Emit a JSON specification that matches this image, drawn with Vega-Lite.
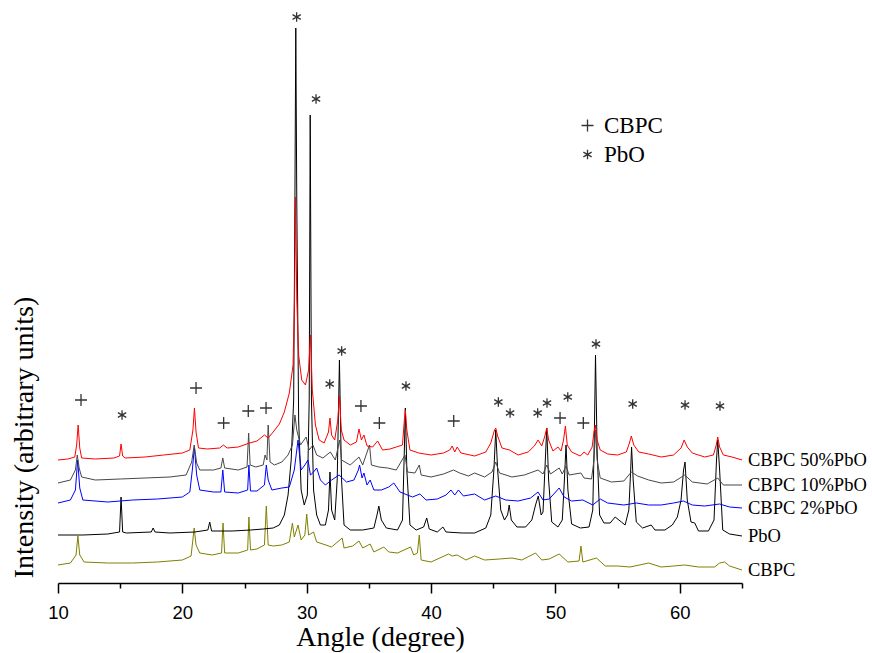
{
"$schema": "https://vega.github.io/schema/vega-lite/v6.json",
"width": 684, "height": 563,
"autosize": {"type": "none"},
"padding": {"left": 58, "top": 20, "right": 130, "bottom": 70},
"background": "white",
"config": {"view": {"stroke": null}},
"datasets": {
"xrd": [
{"series":"CBPC","angle":10,"intensity":18},{"series":"CBPC","angle":11,"intensity":20},{"series":"CBPC","angle":11.45,"intensity":28},{"series":"CBPC","angle":11.6,"intensity":47},{"series":"CBPC","angle":11.75,"intensity":28},{"series":"CBPC","angle":12.1,"intensity":21},{"series":"CBPC","angle":14,"intensity":20},{"series":"CBPC","angle":16,"intensity":20},{"series":"CBPC","angle":18,"intensity":21},{"series":"CBPC","angle":20,"intensity":23},{"series":"CBPC","angle":20.7,"intensity":27},{"series":"CBPC","angle":20.95,"intensity":55},{"series":"CBPC","angle":21.1,"intensity":38},{"series":"CBPC","angle":21.4,"intensity":30},{"series":"CBPC","angle":22.4,"intensity":28},{"series":"CBPC","angle":23.15,"intensity":30},{"series":"CBPC","angle":23.27,"intensity":60},{"series":"CBPC","angle":23.4,"intensity":30},{"series":"CBPC","angle":24.5,"intensity":30},{"series":"CBPC","angle":25.25,"intensity":33},{"series":"CBPC","angle":25.35,"intensity":66},{"series":"CBPC","angle":25.48,"intensity":33},{"series":"CBPC","angle":26,"intensity":34},{"series":"CBPC","angle":26.6,"intensity":38},{"series":"CBPC","angle":26.75,"intensity":77},{"series":"CBPC","angle":26.9,"intensity":38},{"series":"CBPC","angle":27.3,"intensity":37},{"series":"CBPC","angle":28,"intensity":38},{"series":"CBPC","angle":28.6,"intensity":41},{"series":"CBPC","angle":28.85,"intensity":60},{"series":"CBPC","angle":29,"intensity":46},{"series":"CBPC","angle":29.3,"intensity":58},{"series":"CBPC","angle":29.55,"intensity":43},{"series":"CBPC","angle":29.85,"intensity":48},{"series":"CBPC","angle":30,"intensity":69},{"series":"CBPC","angle":30.15,"intensity":48},{"series":"CBPC","angle":30.55,"intensity":51},{"series":"CBPC","angle":30.8,"intensity":41},{"series":"CBPC","angle":31.3,"intensity":39},{"series":"CBPC","angle":32,"intensity":36},{"series":"CBPC","angle":32.85,"intensity":45},{"series":"CBPC","angle":33,"intensity":35},{"series":"CBPC","angle":33.7,"intensity":37},{"series":"CBPC","angle":34.2,"intensity":42},{"series":"CBPC","angle":34.5,"intensity":35},{"series":"CBPC","angle":35.1,"intensity":39},{"series":"CBPC","angle":35.4,"intensity":31},{"series":"CBPC","angle":36.2,"intensity":36},{"series":"CBPC","angle":36.6,"intensity":31},{"series":"CBPC","angle":37.3,"intensity":30},{"series":"CBPC","angle":38.35,"intensity":36},{"series":"CBPC","angle":38.6,"intensity":28},{"series":"CBPC","angle":38.9,"intensity":30},{"series":"CBPC","angle":39.05,"intensity":48},{"series":"CBPC","angle":39.2,"intensity":23},{"series":"CBPC","angle":40,"intensity":21},{"series":"CBPC","angle":41.4,"intensity":29},{"series":"CBPC","angle":41.7,"intensity":27},{"series":"CBPC","angle":42.1,"intensity":28},{"series":"CBPC","angle":42.8,"intensity":23},{"series":"CBPC","angle":43.5,"intensity":27},{"series":"CBPC","angle":44.3,"intensity":23},{"series":"CBPC","angle":45.5,"intensity":24},{"series":"CBPC","angle":46.5,"intensity":25},{"series":"CBPC","angle":47.3,"intensity":23},{"series":"CBPC","angle":48.4,"intensity":30},{"series":"CBPC","angle":48.9,"intensity":23},{"series":"CBPC","angle":49.5,"intensity":24},{"series":"CBPC","angle":50.3,"intensity":29},{"series":"CBPC","angle":51,"intensity":21},{"series":"CBPC","angle":51.9,"intensity":22},{"series":"CBPC","angle":52.05,"intensity":37},{"series":"CBPC","angle":52.2,"intensity":21},{"series":"CBPC","angle":53.3,"intensity":25},{"series":"CBPC","angle":54,"intensity":17},{"series":"CBPC","angle":55,"intensity":17},{"series":"CBPC","angle":56,"intensity":16},{"series":"CBPC","angle":57.5,"intensity":20},{"series":"CBPC","angle":58.5,"intensity":16},{"series":"CBPC","angle":59.5,"intensity":17},{"series":"CBPC","angle":60.4,"intensity":18},{"series":"CBPC","angle":61.5,"intensity":16},{"series":"CBPC","angle":62.8,"intensity":16},{"series":"CBPC","angle":63.2,"intensity":20},{"series":"CBPC","angle":63.6,"intensity":21},{"series":"CBPC","angle":64,"intensity":17},{"series":"CBPC","angle":65,"intensity":13},
{"series":"PbO","angle":10,"intensity":48},{"series":"PbO","angle":12,"intensity":48},{"series":"PbO","angle":14,"intensity":49},{"series":"PbO","angle":14.95,"intensity":51},{"series":"PbO","angle":15.07,"intensity":86},{"series":"PbO","angle":15.2,"intensity":51},{"series":"PbO","angle":15.5,"intensity":50},{"series":"PbO","angle":17.5,"intensity":51},{"series":"PbO","angle":17.65,"intensity":55},{"series":"PbO","angle":17.8,"intensity":51},{"series":"PbO","angle":19,"intensity":50},{"series":"PbO","angle":21,"intensity":51},{"series":"PbO","angle":22.05,"intensity":53},{"series":"PbO","angle":22.2,"intensity":61},{"series":"PbO","angle":22.35,"intensity":52},{"series":"PbO","angle":24,"intensity":52},{"series":"PbO","angle":25.5,"intensity":53},{"series":"PbO","angle":26.5,"intensity":54},{"series":"PbO","angle":27.3,"intensity":55},{"series":"PbO","angle":27.8,"intensity":58},{"series":"PbO","angle":28.2,"intensity":68},{"series":"PbO","angle":28.5,"intensity":88},{"series":"PbO","angle":28.75,"intensity":123},{"series":"PbO","angle":28.95,"intensity":183},{"series":"PbO","angle":29.05,"intensity":383},{"series":"PbO","angle":29.12,"intensity":555},{"series":"PbO","angle":29.2,"intensity":383},{"series":"PbO","angle":29.35,"intensity":163},{"series":"PbO","angle":29.55,"intensity":93},{"series":"PbO","angle":29.8,"intensity":78},{"series":"PbO","angle":30.05,"intensity":88},{"series":"PbO","angle":30.2,"intensity":183},{"series":"PbO","angle":30.28,"intensity":468},{"series":"PbO","angle":30.38,"intensity":183},{"series":"PbO","angle":30.55,"intensity":93},{"series":"PbO","angle":30.8,"intensity":68},{"series":"PbO","angle":31.1,"intensity":58},{"series":"PbO","angle":31.5,"intensity":58},{"series":"PbO","angle":31.75,"intensity":73},{"series":"PbO","angle":31.87,"intensity":111},{"series":"PbO","angle":32,"intensity":73},{"series":"PbO","angle":32.25,"intensity":63},{"series":"PbO","angle":32.45,"intensity":103},{"series":"PbO","angle":32.63,"intensity":223},{"series":"PbO","angle":32.8,"intensity":103},{"series":"PbO","angle":33,"intensity":58},{"series":"PbO","angle":33.5,"intensity":53},{"series":"PbO","angle":34.5,"intensity":53},{"series":"PbO","angle":35.4,"intensity":55},{"series":"PbO","angle":35.65,"intensity":68},{"series":"PbO","angle":35.8,"intensity":77},{"series":"PbO","angle":36,"intensity":63},{"series":"PbO","angle":36.4,"intensity":55},{"series":"PbO","angle":37.3,"intensity":53},{"series":"PbO","angle":37.7,"intensity":63},{"series":"PbO","angle":37.85,"intensity":133},{"series":"PbO","angle":37.93,"intensity":175},{"series":"PbO","angle":38.05,"intensity":113},{"series":"PbO","angle":38.3,"intensity":58},{"series":"PbO","angle":38.8,"intensity":53},{"series":"PbO","angle":39.4,"intensity":56},{"series":"PbO","angle":39.65,"intensity":65},{"series":"PbO","angle":39.85,"intensity":54},{"series":"PbO","angle":40.5,"intensity":51},{"series":"PbO","angle":40.95,"intensity":56},{"series":"PbO","angle":41.2,"intensity":51},{"series":"PbO","angle":42.5,"intensity":50},{"series":"PbO","angle":43.5,"intensity":50},{"series":"PbO","angle":44.4,"intensity":55},{"series":"PbO","angle":44.8,"intensity":68},{"series":"PbO","angle":45.05,"intensity":113},{"series":"PbO","angle":45.2,"intensity":153},{"series":"PbO","angle":45.35,"intensity":113},{"series":"PbO","angle":45.6,"intensity":73},{"series":"PbO","angle":45.9,"intensity":63},{"series":"PbO","angle":46.15,"intensity":68},{"series":"PbO","angle":46.28,"intensity":78},{"series":"PbO","angle":46.45,"intensity":63},{"series":"PbO","angle":46.9,"intensity":56},{"series":"PbO","angle":47.6,"intensity":56},{"series":"PbO","angle":48.1,"intensity":63},{"series":"PbO","angle":48.4,"intensity":78},{"series":"PbO","angle":48.62,"intensity":87},{"series":"PbO","angle":48.85,"intensity":68},{"series":"PbO","angle":49,"intensity":71},{"series":"PbO","angle":49.15,"intensity":113},{"series":"PbO","angle":49.3,"intensity":155},{"series":"PbO","angle":49.45,"intensity":103},{"series":"PbO","angle":49.7,"intensity":61},{"series":"PbO","angle":50.2,"intensity":56},{"series":"PbO","angle":50.55,"intensity":63},{"series":"PbO","angle":50.72,"intensity":103},{"series":"PbO","angle":50.85,"intensity":138},{"series":"PbO","angle":51,"intensity":93},{"series":"PbO","angle":51.3,"intensity":59},{"series":"PbO","angle":52,"intensity":55},{"series":"PbO","angle":52.7,"intensity":56},{"series":"PbO","angle":53,"intensity":73},{"series":"PbO","angle":53.12,"intensity":143},{"series":"PbO","angle":53.22,"intensity":228},{"series":"PbO","angle":53.35,"intensity":133},{"series":"PbO","angle":53.55,"intensity":68},{"series":"PbO","angle":53.9,"intensity":60},{"series":"PbO","angle":54.4,"intensity":60},{"series":"PbO","angle":54.8,"intensity":66},{"series":"PbO","angle":55.3,"intensity":61},{"series":"PbO","angle":55.6,"intensity":58},{"series":"PbO","angle":55.9,"intensity":73},{"series":"PbO","angle":56.05,"intensity":113},{"series":"PbO","angle":56.12,"intensity":136},{"series":"PbO","angle":56.25,"intensity":103},{"series":"PbO","angle":56.5,"intensity":61},{"series":"PbO","angle":57,"intensity":55},{"series":"PbO","angle":57.7,"intensity":58},{"series":"PbO","angle":58,"intensity":53},{"series":"PbO","angle":58.8,"intensity":53},{"series":"PbO","angle":59.4,"intensity":58},{"series":"PbO","angle":59.8,"intensity":66},{"series":"PbO","angle":60.1,"intensity":83},{"series":"PbO","angle":60.3,"intensity":113},{"series":"PbO","angle":60.42,"intensity":121},{"series":"PbO","angle":60.6,"intensity":83},{"series":"PbO","angle":60.9,"intensity":61},{"series":"PbO","angle":61.2,"intensity":60},{"series":"PbO","angle":61.5,"intensity":52},{"series":"PbO","angle":62.3,"intensity":52},{"series":"PbO","angle":62.75,"intensity":63},{"series":"PbO","angle":62.95,"intensity":123},{"series":"PbO","angle":63.05,"intensity":143},{"series":"PbO","angle":63.2,"intensity":113},{"series":"PbO","angle":63.45,"intensity":53},{"series":"PbO","angle":64,"intensity":49},{"series":"PbO","angle":65,"intensity":47},
{"series":"CBPC 2%PbO","angle":10,"intensity":80},{"series":"CBPC 2%PbO","angle":11,"intensity":83},{"series":"CBPC 2%PbO","angle":11.4,"intensity":93},{"series":"CBPC 2%PbO","angle":11.58,"intensity":123},{"series":"CBPC 2%PbO","angle":11.75,"intensity":95},{"series":"CBPC 2%PbO","angle":12,"intensity":83},{"series":"CBPC 2%PbO","angle":14,"intensity":81},{"series":"CBPC 2%PbO","angle":16,"intensity":83},{"series":"CBPC 2%PbO","angle":18,"intensity":84},{"series":"CBPC 2%PbO","angle":20,"intensity":86},{"series":"CBPC 2%PbO","angle":20.6,"intensity":91},{"series":"CBPC 2%PbO","angle":20.8,"intensity":113},{"series":"CBPC 2%PbO","angle":20.97,"intensity":136},{"series":"CBPC 2%PbO","angle":21.15,"intensity":108},{"series":"CBPC 2%PbO","angle":21.4,"intensity":93},{"series":"CBPC 2%PbO","angle":22.5,"intensity":91},{"series":"CBPC 2%PbO","angle":23.1,"intensity":91},{"series":"CBPC 2%PbO","angle":23.25,"intensity":113},{"series":"CBPC 2%PbO","angle":23.4,"intensity":91},{"series":"CBPC 2%PbO","angle":24.5,"intensity":90},{"series":"CBPC 2%PbO","angle":25.25,"intensity":93},{"series":"CBPC 2%PbO","angle":25.35,"intensity":118},{"series":"CBPC 2%PbO","angle":25.48,"intensity":92},{"series":"CBPC 2%PbO","angle":26,"intensity":92},{"series":"CBPC 2%PbO","angle":26.6,"intensity":98},{"series":"CBPC 2%PbO","angle":26.75,"intensity":118},{"series":"CBPC 2%PbO","angle":26.9,"intensity":103},{"series":"CBPC 2%PbO","angle":27.2,"intensity":93},{"series":"CBPC 2%PbO","angle":28,"intensity":95},{"series":"CBPC 2%PbO","angle":28.6,"intensity":96},{"series":"CBPC 2%PbO","angle":29,"intensity":113},{"series":"CBPC 2%PbO","angle":29.3,"intensity":143},{"series":"CBPC 2%PbO","angle":29.55,"intensity":113},{"series":"CBPC 2%PbO","angle":29.85,"intensity":118},{"series":"CBPC 2%PbO","angle":30.1,"intensity":123},{"series":"CBPC 2%PbO","angle":30.3,"intensity":108},{"series":"CBPC 2%PbO","angle":30.55,"intensity":111},{"series":"CBPC 2%PbO","angle":30.8,"intensity":115},{"series":"CBPC 2%PbO","angle":31.1,"intensity":103},{"series":"CBPC 2%PbO","angle":31.5,"intensity":98},{"series":"CBPC 2%PbO","angle":32,"intensity":103},{"series":"CBPC 2%PbO","angle":32.6,"intensity":108},{"series":"CBPC 2%PbO","angle":33.2,"intensity":101},{"series":"CBPC 2%PbO","angle":33.8,"intensity":103},{"series":"CBPC 2%PbO","angle":34.15,"intensity":113},{"series":"CBPC 2%PbO","angle":34.25,"intensity":118},{"series":"CBPC 2%PbO","angle":34.45,"intensity":105},{"series":"CBPC 2%PbO","angle":34.6,"intensity":110},{"series":"CBPC 2%PbO","angle":34.85,"intensity":98},{"series":"CBPC 2%PbO","angle":35.1,"intensity":103},{"series":"CBPC 2%PbO","angle":35.4,"intensity":93},{"series":"CBPC 2%PbO","angle":36,"intensity":93},{"series":"CBPC 2%PbO","angle":36.6,"intensity":96},{"series":"CBPC 2%PbO","angle":37,"intensity":100},{"series":"CBPC 2%PbO","angle":37.5,"intensity":91},{"series":"CBPC 2%PbO","angle":37.9,"intensity":89},{"series":"CBPC 2%PbO","angle":38.5,"intensity":86},{"series":"CBPC 2%PbO","angle":39.1,"intensity":89},{"series":"CBPC 2%PbO","angle":39.6,"intensity":83},{"series":"CBPC 2%PbO","angle":40.5,"intensity":84},{"series":"CBPC 2%PbO","angle":41.2,"intensity":88},{"series":"CBPC 2%PbO","angle":41.6,"intensity":93},{"series":"CBPC 2%PbO","angle":41.9,"intensity":88},{"series":"CBPC 2%PbO","angle":42.2,"intensity":93},{"series":"CBPC 2%PbO","angle":42.6,"intensity":87},{"series":"CBPC 2%PbO","angle":43.5,"intensity":89},{"series":"CBPC 2%PbO","angle":44.3,"intensity":83},{"series":"CBPC 2%PbO","angle":45.2,"intensity":87},{"series":"CBPC 2%PbO","angle":46,"intensity":83},{"series":"CBPC 2%PbO","angle":47,"intensity":82},{"series":"CBPC 2%PbO","angle":48,"intensity":85},{"series":"CBPC 2%PbO","angle":48.6,"intensity":91},{"series":"CBPC 2%PbO","angle":49,"intensity":83},{"series":"CBPC 2%PbO","angle":49.5,"intensity":84},{"series":"CBPC 2%PbO","angle":50.3,"intensity":95},{"series":"CBPC 2%PbO","angle":50.7,"intensity":86},{"series":"CBPC 2%PbO","angle":51.3,"intensity":82},{"series":"CBPC 2%PbO","angle":52.2,"intensity":83},{"series":"CBPC 2%PbO","angle":53,"intensity":78},{"series":"CBPC 2%PbO","angle":53.6,"intensity":84},{"series":"CBPC 2%PbO","angle":54.2,"intensity":80},{"series":"CBPC 2%PbO","angle":55.5,"intensity":78},{"series":"CBPC 2%PbO","angle":56.5,"intensity":80},{"series":"CBPC 2%PbO","angle":57.5,"intensity":78},{"series":"CBPC 2%PbO","angle":58.5,"intensity":78},{"series":"CBPC 2%PbO","angle":59.5,"intensity":80},{"series":"CBPC 2%PbO","angle":60.3,"intensity":82},{"series":"CBPC 2%PbO","angle":61,"intensity":78},{"series":"CBPC 2%PbO","angle":62,"intensity":77},{"series":"CBPC 2%PbO","angle":63.2,"intensity":79},{"series":"CBPC 2%PbO","angle":64,"intensity":76},{"series":"CBPC 2%PbO","angle":65,"intensity":75},
{"series":"CBPC 10%PbO","angle":10,"intensity":100},{"series":"CBPC 10%PbO","angle":11,"intensity":103},{"series":"CBPC 10%PbO","angle":11.4,"intensity":113},{"series":"CBPC 10%PbO","angle":11.55,"intensity":128},{"series":"CBPC 10%PbO","angle":11.7,"intensity":115},{"series":"CBPC 10%PbO","angle":11.9,"intensity":106},{"series":"CBPC 10%PbO","angle":13,"intensity":103},{"series":"CBPC 10%PbO","angle":15,"intensity":104},{"series":"CBPC 10%PbO","angle":17,"intensity":105},{"series":"CBPC 10%PbO","angle":19,"intensity":106},{"series":"CBPC 10%PbO","angle":20.3,"intensity":108},{"series":"CBPC 10%PbO","angle":20.75,"intensity":121},{"series":"CBPC 10%PbO","angle":20.95,"intensity":138},{"series":"CBPC 10%PbO","angle":21.15,"intensity":120},{"series":"CBPC 10%PbO","angle":21.4,"intensity":113},{"series":"CBPC 10%PbO","angle":22.5,"intensity":113},{"series":"CBPC 10%PbO","angle":23.1,"intensity":115},{"series":"CBPC 10%PbO","angle":23.25,"intensity":125},{"series":"CBPC 10%PbO","angle":23.4,"intensity":115},{"series":"CBPC 10%PbO","angle":24.5,"intensity":113},{"series":"CBPC 10%PbO","angle":25.2,"intensity":116},{"series":"CBPC 10%PbO","angle":25.33,"intensity":150},{"series":"CBPC 10%PbO","angle":25.45,"intensity":118},{"series":"CBPC 10%PbO","angle":25.9,"intensity":116},{"series":"CBPC 10%PbO","angle":26.5,"intensity":118},{"series":"CBPC 10%PbO","angle":26.65,"intensity":128},{"series":"CBPC 10%PbO","angle":26.8,"intensity":123},{"series":"CBPC 10%PbO","angle":26.9,"intensity":158},{"series":"CBPC 10%PbO","angle":27.05,"intensity":121},{"series":"CBPC 10%PbO","angle":27.4,"intensity":118},{"series":"CBPC 10%PbO","angle":28,"intensity":121},{"series":"CBPC 10%PbO","angle":28.5,"intensity":128},{"series":"CBPC 10%PbO","angle":28.85,"intensity":138},{"series":"CBPC 10%PbO","angle":29.05,"intensity":168},{"series":"CBPC 10%PbO","angle":29.2,"intensity":153},{"series":"CBPC 10%PbO","angle":29.5,"intensity":138},{"series":"CBPC 10%PbO","angle":29.95,"intensity":146},{"series":"CBPC 10%PbO","angle":30.2,"intensity":133},{"series":"CBPC 10%PbO","angle":30.5,"intensity":138},{"series":"CBPC 10%PbO","angle":30.8,"intensity":128},{"series":"CBPC 10%PbO","angle":31.3,"intensity":125},{"series":"CBPC 10%PbO","angle":31.9,"intensity":131},{"series":"CBPC 10%PbO","angle":32.3,"intensity":123},{"series":"CBPC 10%PbO","angle":32.65,"intensity":143},{"series":"CBPC 10%PbO","angle":32.8,"intensity":123},{"series":"CBPC 10%PbO","angle":33.5,"intensity":118},{"series":"CBPC 10%PbO","angle":34.2,"intensity":126},{"series":"CBPC 10%PbO","angle":34.5,"intensity":118},{"series":"CBPC 10%PbO","angle":35.05,"intensity":138},{"series":"CBPC 10%PbO","angle":35.2,"intensity":118},{"series":"CBPC 10%PbO","angle":35.8,"intensity":116},{"series":"CBPC 10%PbO","angle":36.5,"intensity":115},{"series":"CBPC 10%PbO","angle":37.2,"intensity":113},{"series":"CBPC 10%PbO","angle":37.9,"intensity":128},{"series":"CBPC 10%PbO","angle":38.1,"intensity":111},{"series":"CBPC 10%PbO","angle":38.7,"intensity":110},{"series":"CBPC 10%PbO","angle":39.05,"intensity":118},{"series":"CBPC 10%PbO","angle":39.2,"intensity":108},{"series":"CBPC 10%PbO","angle":40,"intensity":106},{"series":"CBPC 10%PbO","angle":41,"intensity":109},{"series":"CBPC 10%PbO","angle":41.8,"intensity":113},{"series":"CBPC 10%PbO","angle":42.3,"intensity":110},{"series":"CBPC 10%PbO","angle":43,"intensity":107},{"series":"CBPC 10%PbO","angle":43.5,"intensity":110},{"series":"CBPC 10%PbO","angle":44.3,"intensity":106},{"series":"CBPC 10%PbO","angle":44.9,"intensity":111},{"series":"CBPC 10%PbO","angle":45.2,"intensity":121},{"series":"CBPC 10%PbO","angle":45.5,"intensity":110},{"series":"CBPC 10%PbO","angle":46.5,"intensity":106},{"series":"CBPC 10%PbO","angle":47.5,"intensity":108},{"series":"CBPC 10%PbO","angle":48.6,"intensity":113},{"series":"CBPC 10%PbO","angle":49,"intensity":109},{"series":"CBPC 10%PbO","angle":49.3,"intensity":118},{"series":"CBPC 10%PbO","angle":49.6,"intensity":109},{"series":"CBPC 10%PbO","angle":50.3,"intensity":115},{"series":"CBPC 10%PbO","angle":50.55,"intensity":109},{"series":"CBPC 10%PbO","angle":50.85,"intensity":117},{"series":"CBPC 10%PbO","angle":51.1,"intensity":108},{"series":"CBPC 10%PbO","angle":52.05,"intensity":110},{"series":"CBPC 10%PbO","angle":52.3,"intensity":105},{"series":"CBPC 10%PbO","angle":52.9,"intensity":104},{"series":"CBPC 10%PbO","angle":53.1,"intensity":123},{"series":"CBPC 10%PbO","angle":53.22,"intensity":153},{"series":"CBPC 10%PbO","angle":53.35,"intensity":123},{"series":"CBPC 10%PbO","angle":53.6,"intensity":105},{"series":"CBPC 10%PbO","angle":54.5,"intensity":101},{"series":"CBPC 10%PbO","angle":55.5,"intensity":102},{"series":"CBPC 10%PbO","angle":56.1,"intensity":111},{"series":"CBPC 10%PbO","angle":56.6,"intensity":107},{"series":"CBPC 10%PbO","angle":57.5,"intensity":103},{"series":"CBPC 10%PbO","angle":58.5,"intensity":100},{"series":"CBPC 10%PbO","angle":59.5,"intensity":101},{"series":"CBPC 10%PbO","angle":60.4,"intensity":108},{"series":"CBPC 10%PbO","angle":61,"intensity":101},{"series":"CBPC 10%PbO","angle":62.2,"intensity":99},{"series":"CBPC 10%PbO","angle":63.05,"intensity":105},{"series":"CBPC 10%PbO","angle":63.5,"intensity":98},{"series":"CBPC 10%PbO","angle":65,"intensity":98},
{"series":"CBPC 50%PbO","angle":10,"intensity":123},{"series":"CBPC 50%PbO","angle":10.8,"intensity":124},{"series":"CBPC 50%PbO","angle":11.35,"intensity":126},{"series":"CBPC 50%PbO","angle":11.5,"intensity":138},{"series":"CBPC 50%PbO","angle":11.62,"intensity":158},{"series":"CBPC 50%PbO","angle":11.75,"intensity":135},{"series":"CBPC 50%PbO","angle":11.9,"intensity":125},{"series":"CBPC 50%PbO","angle":13,"intensity":124},{"series":"CBPC 50%PbO","angle":14.5,"intensity":125},{"series":"CBPC 50%PbO","angle":14.95,"intensity":127},{"series":"CBPC 50%PbO","angle":15.07,"intensity":139},{"series":"CBPC 50%PbO","angle":15.2,"intensity":127},{"series":"CBPC 50%PbO","angle":15.4,"intensity":125},{"series":"CBPC 50%PbO","angle":17,"intensity":126},{"series":"CBPC 50%PbO","angle":18.5,"intensity":128},{"series":"CBPC 50%PbO","angle":20,"intensity":130},{"series":"CBPC 50%PbO","angle":20.6,"intensity":133},{"series":"CBPC 50%PbO","angle":20.85,"intensity":153},{"series":"CBPC 50%PbO","angle":20.97,"intensity":175},{"series":"CBPC 50%PbO","angle":21.1,"intensity":151},{"series":"CBPC 50%PbO","angle":21.3,"intensity":135},{"series":"CBPC 50%PbO","angle":22,"intensity":134},{"series":"CBPC 50%PbO","angle":23,"intensity":135},{"series":"CBPC 50%PbO","angle":23.3,"intensity":138},{"series":"CBPC 50%PbO","angle":23.6,"intensity":135},{"series":"CBPC 50%PbO","angle":24.5,"intensity":136},{"series":"CBPC 50%PbO","angle":25.4,"intensity":140},{"series":"CBPC 50%PbO","angle":26,"intensity":142},{"series":"CBPC 50%PbO","angle":26.6,"intensity":148},{"series":"CBPC 50%PbO","angle":26.9,"intensity":145},{"series":"CBPC 50%PbO","angle":27.3,"intensity":151},{"series":"CBPC 50%PbO","angle":27.8,"intensity":159},{"series":"CBPC 50%PbO","angle":28.2,"intensity":171},{"series":"CBPC 50%PbO","angle":28.6,"intensity":190},{"series":"CBPC 50%PbO","angle":28.9,"intensity":218},{"series":"CBPC 50%PbO","angle":29.02,"intensity":283},{"series":"CBPC 50%PbO","angle":29.1,"intensity":386},{"series":"CBPC 50%PbO","angle":29.2,"intensity":283},{"series":"CBPC 50%PbO","angle":29.35,"intensity":228},{"series":"CBPC 50%PbO","angle":29.6,"intensity":203},{"series":"CBPC 50%PbO","angle":29.9,"intensity":198},{"series":"CBPC 50%PbO","angle":30.15,"intensity":213},{"series":"CBPC 50%PbO","angle":30.3,"intensity":248},{"series":"CBPC 50%PbO","angle":30.45,"intensity":193},{"series":"CBPC 50%PbO","angle":30.7,"intensity":158},{"series":"CBPC 50%PbO","angle":31,"intensity":143},{"series":"CBPC 50%PbO","angle":31.4,"intensity":140},{"series":"CBPC 50%PbO","angle":31.75,"intensity":151},{"series":"CBPC 50%PbO","angle":31.87,"intensity":165},{"series":"CBPC 50%PbO","angle":32,"intensity":148},{"series":"CBPC 50%PbO","angle":32.25,"intensity":143},{"series":"CBPC 50%PbO","angle":32.5,"intensity":163},{"series":"CBPC 50%PbO","angle":32.63,"intensity":187},{"series":"CBPC 50%PbO","angle":32.78,"intensity":153},{"series":"CBPC 50%PbO","angle":33,"intensity":143},{"series":"CBPC 50%PbO","angle":33.5,"intensity":138},{"series":"CBPC 50%PbO","angle":34,"intensity":141},{"series":"CBPC 50%PbO","angle":34.2,"intensity":154},{"series":"CBPC 50%PbO","angle":34.4,"intensity":143},{"series":"CBPC 50%PbO","angle":34.6,"intensity":148},{"series":"CBPC 50%PbO","angle":34.85,"intensity":137},{"series":"CBPC 50%PbO","angle":35.3,"intensity":136},{"series":"CBPC 50%PbO","angle":35.7,"intensity":142},{"series":"CBPC 50%PbO","angle":36.1,"intensity":133},{"series":"CBPC 50%PbO","angle":36.7,"intensity":134},{"series":"CBPC 50%PbO","angle":37.2,"intensity":136},{"series":"CBPC 50%PbO","angle":37.7,"intensity":138},{"series":"CBPC 50%PbO","angle":37.85,"intensity":163},{"series":"CBPC 50%PbO","angle":37.93,"intensity":173},{"series":"CBPC 50%PbO","angle":38.05,"intensity":153},{"series":"CBPC 50%PbO","angle":38.3,"intensity":133},{"series":"CBPC 50%PbO","angle":39,"intensity":130},{"series":"CBPC 50%PbO","angle":40,"intensity":128},{"series":"CBPC 50%PbO","angle":41,"intensity":130},{"series":"CBPC 50%PbO","angle":41.5,"intensity":133},{"series":"CBPC 50%PbO","angle":41.7,"intensity":137},{"series":"CBPC 50%PbO","angle":41.9,"intensity":131},{"series":"CBPC 50%PbO","angle":42.1,"intensity":136},{"series":"CBPC 50%PbO","angle":42.4,"intensity":130},{"series":"CBPC 50%PbO","angle":43.5,"intensity":127},{"series":"CBPC 50%PbO","angle":44.4,"intensity":131},{"series":"CBPC 50%PbO","angle":44.8,"intensity":140},{"series":"CBPC 50%PbO","angle":45.1,"intensity":153},{"series":"CBPC 50%PbO","angle":45.2,"intensity":155},{"series":"CBPC 50%PbO","angle":45.35,"intensity":147},{"series":"CBPC 50%PbO","angle":45.7,"intensity":135},{"series":"CBPC 50%PbO","angle":46.3,"intensity":133},{"series":"CBPC 50%PbO","angle":47,"intensity":128},{"series":"CBPC 50%PbO","angle":47.8,"intensity":131},{"series":"CBPC 50%PbO","angle":48.3,"intensity":137},{"series":"CBPC 50%PbO","angle":48.6,"intensity":143},{"series":"CBPC 50%PbO","angle":48.9,"intensity":137},{"series":"CBPC 50%PbO","angle":49.15,"intensity":147},{"series":"CBPC 50%PbO","angle":49.3,"intensity":155},{"series":"CBPC 50%PbO","angle":49.45,"intensity":143},{"series":"CBPC 50%PbO","angle":49.8,"intensity":132},{"series":"CBPC 50%PbO","angle":50.2,"intensity":136},{"series":"CBPC 50%PbO","angle":50.45,"intensity":132},{"series":"CBPC 50%PbO","angle":50.65,"intensity":143},{"series":"CBPC 50%PbO","angle":50.8,"intensity":157},{"series":"CBPC 50%PbO","angle":50.95,"intensity":138},{"series":"CBPC 50%PbO","angle":51.3,"intensity":131},{"series":"CBPC 50%PbO","angle":52,"intensity":127},{"series":"CBPC 50%PbO","angle":52.3,"intensity":131},{"series":"CBPC 50%PbO","angle":52.6,"intensity":128},{"series":"CBPC 50%PbO","angle":52.95,"intensity":136},{"series":"CBPC 50%PbO","angle":53.1,"intensity":151},{"series":"CBPC 50%PbO","angle":53.2,"intensity":158},{"series":"CBPC 50%PbO","angle":53.35,"intensity":143},{"series":"CBPC 50%PbO","angle":53.6,"intensity":133},{"series":"CBPC 50%PbO","angle":54.2,"intensity":129},{"series":"CBPC 50%PbO","angle":55,"intensity":128},{"series":"CBPC 50%PbO","angle":55.7,"intensity":131},{"series":"CBPC 50%PbO","angle":55.95,"intensity":140},{"series":"CBPC 50%PbO","angle":56.1,"intensity":147},{"series":"CBPC 50%PbO","angle":56.3,"intensity":138},{"series":"CBPC 50%PbO","angle":56.7,"intensity":131},{"series":"CBPC 50%PbO","angle":57.5,"intensity":129},{"series":"CBPC 50%PbO","angle":58.5,"intensity":126},{"series":"CBPC 50%PbO","angle":59.5,"intensity":128},{"series":"CBPC 50%PbO","angle":60.1,"intensity":135},{"series":"CBPC 50%PbO","angle":60.35,"intensity":143},{"series":"CBPC 50%PbO","angle":60.6,"intensity":136},{"series":"CBPC 50%PbO","angle":61,"intensity":130},{"series":"CBPC 50%PbO","angle":62,"intensity":126},{"series":"CBPC 50%PbO","angle":62.7,"intensity":128},{"series":"CBPC 50%PbO","angle":62.93,"intensity":138},{"series":"CBPC 50%PbO","angle":63.05,"intensity":146},{"series":"CBPC 50%PbO","angle":63.2,"intensity":136},{"series":"CBPC 50%PbO","angle":63.5,"intensity":128},{"series":"CBPC 50%PbO","angle":64.2,"intensity":126},{"series":"CBPC 50%PbO","angle":65,"intensity":123}
],
"markers": [
{"phase":"CBPC","angle":11.85,"intensity":183},{"phase":"PbO","angle":15.15,"intensity":168},{"phase":"CBPC","angle":21.1,"intensity":195},{"phase":"CBPC","angle":23.32,"intensity":160},{"phase":"CBPC","angle":25.3,"intensity":172},{"phase":"CBPC","angle":26.73,"intensity":175},{"phase":"PbO","angle":29.19,"intensity":566},{"phase":"PbO","angle":30.75,"intensity":484},{"phase":"PbO","angle":31.85,"intensity":199},{"phase":"PbO","angle":32.81,"intensity":232},{"phase":"CBPC","angle":34.36,"intensity":177},{"phase":"CBPC","angle":35.84,"intensity":160},{"phase":"PbO","angle":37.98,"intensity":197},{"phase":"CBPC","angle":41.82,"intensity":162},{"phase":"PbO","angle":45.41,"intensity":181},{"phase":"PbO","angle":46.35,"intensity":170},{"phase":"PbO","angle":48.57,"intensity":170},{"phase":"PbO","angle":49.32,"intensity":180},{"phase":"CBPC","angle":50.37,"intensity":165},{"phase":"PbO","angle":50.99,"intensity":186},{"phase":"CBPC","angle":52.24,"intensity":160},{"phase":"PbO","angle":53.26,"intensity":239},{"phase":"PbO","angle":56.21,"intensity":179},{"phase":"PbO","angle":60.42,"intensity":178},{"phase":"PbO","angle":63.23,"intensity":177}
]
},
"encoding": {
"x": {"field": "angle", "type": "quantitative", "scale": {"domain": [10, 65], "nice": false, "zero": false},
  "axis": {"title": "Angle (degree)", "values": [10,15,20,25,30,35,40,45,50,55,60,65], "labelExpr": "datum.value % 10 === 0 ? datum.label : ''",
    "tickSize": {"condition": {"test": "datum.value % 10 === 0", "value": 10}, "value": 5},
    "grid": false, "domainColor": "black", "domainWidth": 1.5, "tickColor": "black", "tickWidth": 1.5,
    "labelFont": "Liberation Sans", "labelFontSize": 18.5, "labelColor": "black", "labelPadding": 10, "labelFlush": false,
    "titleFont": "Liberation Serif", "titleFontSize": 28, "titleFontWeight": "normal", "titleColor": "black",
    "titleX": 322, "titleY": 62, "titleBaseline": "alphabetic", "titleAlign": "center"}},
"y": {"field": "intensity", "type": "quantitative", "scale": {"domain": [0, 563], "nice": false, "zero": false},
  "axis": {"title": "Intensity (arbitrary units)", "domain": false, "ticks": false, "labels": false, "grid": false,
    "titleFont": "Liberation Serif", "titleFontSize": 28, "titleFontWeight": "normal", "titleColor": "black",
    "titleX": -26, "titleY": 417, "titleAngle": -90, "titleBaseline": "alphabetic", "titleAlign": "center"}}
},
"layer": [
{"data": {"name": "xrd"}, "mark": {"type": "line", "strokeWidth": 1},
 "encoding": {"color": {"field": "series", "type": "nominal",
   "scale": {"domain": ["CBPC", "PbO", "CBPC 2%PbO", "CBPC 10%PbO", "CBPC 50%PbO"], "range": ["#808000", "#000000", "#0000ff", "#474747", "#ff0000"]}, "legend": null}}},
{"data": {"name": "xrd"}, "transform": [{"filter": "datum.angle === 65"}],
 "mark": {"type": "text", "align": "left", "baseline": "middle", "dx": 6, "font": "Liberation Serif", "fontSize": 18.5, "color": "black"},
 "encoding": {"text": {"field": "series", "type": "nominal"}}},
{"data": {"name": "markers"}, "mark": {"type": "point", "filled": false, "stroke": "#333333", "strokeWidth": 1.3, "size": 144, "opacity": 1},
 "encoding": {"shape": {"field": "phase", "type": "nominal",
   "scale": {"domain": ["CBPC", "PbO"], "range": ["M-1,0L1,0M0,-1L0,1", "M0,-0.8L0,0.8M-0.69,-0.4L0.69,0.4M-0.69,0.4L0.69,-0.4"]},
   "legend": {"title": null, "orient": "none", "legendX": 518, "legendY": 94, "padding": 0,
     "labelFont": "Liberation Serif", "labelFontSize": 23, "labelColor": "black", "labelOffset": 5,
     "symbolSize": 144, "symbolStrokeWidth": 1.3, "symbolStrokeColor": "#333333", "symbolFillColor": "transparent", "rowPadding": 5}}}}
]
}
